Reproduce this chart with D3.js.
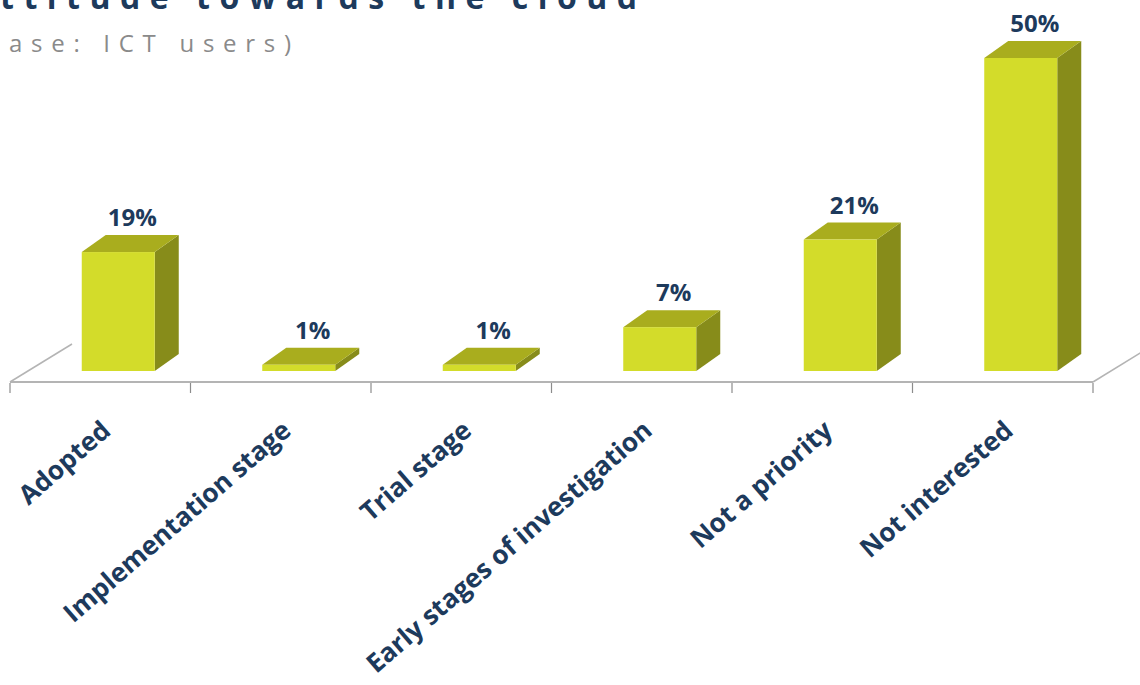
<!DOCTYPE html>
<html>
<head>
<meta charset="utf-8">
<script src="https://cdn.jsdelivr.net/npm/d3@7"></script>
<style>
  html, body { margin: 0; padding: 0; background: #fff; overflow: hidden; }
  svg { display: block; }
</style>
</head>
<body>
<svg id="chart" width="1140" height="685"></svg>
<script>
// Survey data: attitude towards the cloud (base: ICT users)
const categories = ["Adopted", "Implementation stage", "Trial stage",
                    "Early stages of investigation", "Not a priority", "Not interested"];
const values = [19, 1, 1, 7, 21, 50];
const valueLabels = ["19%", "1%", "1%", "7%", "21%", "50%"];
const titleText = "Attitude towards the cloud";
const subtitleText = "(base: ICT users)";

const svg = d3.select("#chart");

const navy = "#1d3a5c";
const frontCol = "#d3dc2a";
const topCol = "#a9ad1e";
const sideCol = "#878c1a";
const floorCol = "#b4b4b4";
const font = "'Open Sans', sans-serif";

// floor geometry (front edge, perspective depth)
const floorY = 382;
const depthX = 62, depthY = -38;       // floor depth
const barDX = 24, barDY = -17;         // bar depth
const seatX = 18, seatY = -11;         // bars sit part way back on the floor
const barW = 73;

const x = d3.scaleBand().domain(categories).range([10, 1093]).paddingInner(0).paddingOuter(0);
const y = d3.scaleLinear().domain([0, 50]).range([floorY + seatY, 58]);

// floor lines
const g = svg.append("g");
g.append("line").attr("x1", 10).attr("y1", floorY).attr("x2", 1093).attr("y2", floorY)
  .attr("stroke", floorCol).attr("stroke-width", 2);
g.append("line").attr("x1", 10).attr("y1", floorY).attr("x2", 10 + depthX).attr("y2", floorY + depthY)
  .attr("stroke", floorCol).attr("stroke-width", 1.5);
g.append("line").attr("x1", 1093).attr("y1", floorY).attr("x2", 1093 + depthX).attr("y2", floorY + depthY)
  .attr("stroke", floorCol).attr("stroke-width", 1.5);

// category ticks on the band edges
const tickPositions = categories.map(c => x(c)).concat([x.range()[1]]);
g.selectAll("line.tick").data(tickPositions).enter().append("line")
  .attr("class", "tick")
  .attr("x1", d => d).attr("x2", d => d)
  .attr("y1", floorY + 1).attr("y2", floorY + 11)
  .attr("stroke", "#8c8c8c").attr("stroke-width", 1.2);

// 3D bars
const bars = svg.append("g").selectAll("g.bar")
  .data(categories.map((c, i) => ({ c, v: values[i], label: valueLabels[i] })))
  .enter().append("g").attr("class", "bar");

bars.each(function (d) {
  const sel = d3.select(this);
  const x0 = x(d.c) + x.bandwidth() / 2 - barW / 2 + seatX;
  const x1 = x0 + barW;
  const yb = y(0);
  const yt = y(d.v);
  // side face
  sel.append("path")
    .attr("d", `M${x1},${yb} L${x1 + barDX},${yb + barDY} L${x1 + barDX},${yt + barDY} L${x1},${yt} Z`)
    .attr("fill", sideCol);
  // top face
  sel.append("path")
    .attr("d", `M${x0},${yt} L${x0 + barDX},${yt + barDY} L${x1 + barDX},${yt + barDY} L${x1},${yt} Z`)
    .attr("fill", topCol);
  // front face
  sel.append("rect")
    .attr("x", x0).attr("y", yt).attr("width", barW).attr("height", yb - yt)
    .attr("fill", frontCol);
  // value label
  sel.append("text")
    .attr("x", x0 + (barW + barDX) / 2 + 2)
    .attr("y", yt + barDY - 9)
    .attr("text-anchor", "middle")
    .attr("font-family", font).attr("font-weight", 700).attr("font-size", 24)
    .attr("fill", navy)
    .text(d.label);
});

// rotated category labels
const cats = svg.append("g").selectAll("text.cat").data(categories).enter().append("text")
  .attr("class", "cat")
  .attr("transform", d => `translate(${x(d) + x.bandwidth() / 2 + 12},${433}) rotate(-41)`)
  .attr("text-anchor", "end")
  .attr("font-family", font).attr("font-weight", 700).attr("font-size", 22)
  .attr("fill", navy)
  .text(d => d);

// size the labels so the longest one spans its slot
(function () {
  const node = cats.filter(d => d === "Early stages of investigation").node();
  const len = node.getComputedTextLength();
  cats.attr("font-size", 22 * 368 / len);
})();

// spaced-out text whose visible part runs from `left` to `right`,
// starting at character index `firstIdx` (earlier characters fall off the edge)
function spacedText(txt, firstIdx, left, right, yPos, size, weight, color) {
  const t = svg.append("text")
    .attr("x", 0).attr("y", yPos)
    .attr("font-family", font).attr("font-weight", weight).attr("font-size", size)
    .attr("fill", color)
    .text(txt);
  const node = t.node();
  const n = txt.length;
  const span0 = node.getEndPositionOfChar(n - 1).x - node.getStartPositionOfChar(firstIdx).x;
  const gaps = n - 1 - firstIdx;
  const ls = (right - left - span0) / gaps;
  t.attr("letter-spacing", ls);
  const start = node.getStartPositionOfChar(firstIdx).x;
  t.attr("x", left - start);
  return t;
}

spacedText(titleText, 1, 0, 637, 9, 32, 700, navy);
spacedText(subtitleText, 2, 9, 291, 52, 24, 400, "#8a8a8a");
</script>
</body>
</html>
